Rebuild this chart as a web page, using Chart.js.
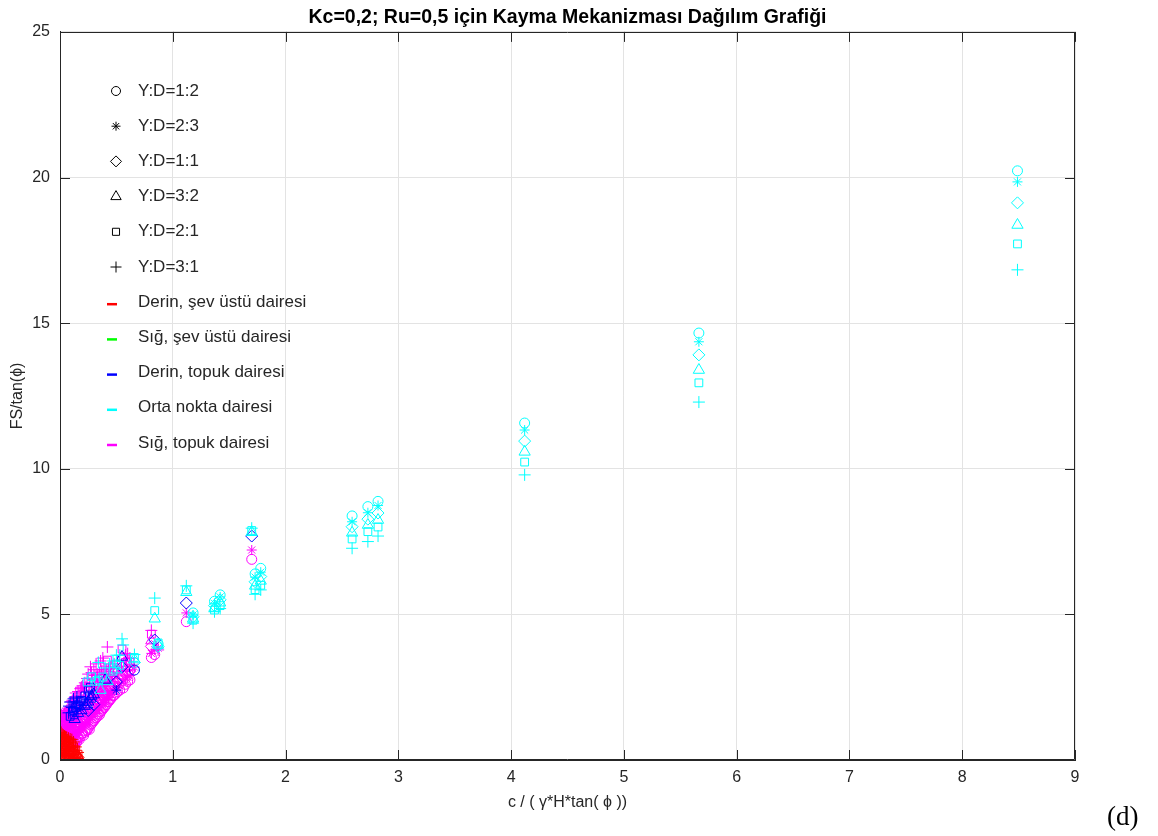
<!DOCTYPE html>
<html>
<head>
<meta charset="utf-8">
<script src="https://cdn.jsdelivr.net/npm/chart.js@4/dist/chart.umd.min.js"></script>
<style>
  body { margin: 0; background: #fff; }
  #wrap { position: relative; width: 1158px; height: 836px; }
  #harf { position: absolute; left: 1107px; top: 801px; font-family: 'Liberation Serif', 'Times New Roman', serif; font-size: 27px; color: #000; }
</style>
</head>
<body>
<div id="wrap">
  <canvas id="grafik" width="1158" height="836"></canvas>
  <div id="harf">(d)</div>
</div>
<script>
// her sütun bir şev durumu: x değeri ve 6 Y:D oranı için FS/tan(phi)
const caseX = [
  8.49, 5.665, 4.12, 2.82, 2.73, 2.59, 1.78, 1.73, 1.70, 1.42, 1.37, 1.18, 1.12, 0.87, 0.84, 0.81, 0.66,
  0.62, 0.60, 0.56, 0.55, 0.53, 0.50, 0.47, 0.44, 0.42, 0.40, 0.38, 0.36, 0.34, 0.32, 0.30, 0.28, 0.27,
  0.25, 0.24, 0.22, 0.20, 0.19, 0.18, 0.16, 0.15, 0.14, 0.13, 0.12, 0.11, 0.10, 0.09, 0.08, 0.07, 0.06,
  0.05, 0.04, 0.03, 0.02, 0.01,
  0.015, 0.035, 0.055, 0.075, 0.105, 0.125, 0.145, 0.17, 0.21, 0.23, 0.26, 0.29, 0.31, 0.33, 0.35, 0.37,
  0.39, 0.41, 0.43, 0.45, 0.48, 0.51, 0.58,
  0.003, 0.01, 0.02, 0.03, 0.04, 0.05, 0.06, 0.075, 0.09, 0.105, 0.12, 0.14, 0.16
];
const yOran12 = [
  20.23, 14.66, 11.57, 8.88, 8.70, 8.38, 6.58, 6.39, 6.89, 5.67, 5.45, 5.05, 4.75, 3.98, 3.62, 3.52, 3.09,
  2.75, 2.70, 2.47, 2.90, 2.40, 2.30, 2.20, 2.06, 2.00, 1.85, 1.75, 1.65, 1.60, 1.45, 1.35, 1.25, 1.20,
  1.10, 1.03, 0.95, 0.93, 0.90, 0.80, 0.75, 0.65, 0.70, 0.60, 0.45, 0.55, 0.50, 0.45, 0.55, 0.50, 0.50,
  0.55, 0.60, 0.65, 0.70, 0.80,
  0.75, 0.60, 0.52, 0.45, 0.58, 0.62, 0.60, 0.70, 0.85, 1.00, 1.05, 1.30, 1.40, 1.50, 1.55, 1.70,
  1.80, 1.90, 2.00, 2.10, 2.22, 2.35, 2.60,
  0.03, 0.08, 0.05, 0.10, 0.04, 0.08, 0.05, 0.06, 0.04, 0.05, 0.03, 0.02, 0.02
];
const yOran23 = [
  19.85, 14.36, 11.33, 8.74, 8.49, 8.18, 6.45, 6.28, 7.21, 5.60, 5.38, 4.98, 5.05, 3.84, 3.78, 3.66, 3.19,
  2.90, 2.85, 2.65, 3.05, 2.55, 2.40, 2.35, 2.25, 2.20, 2.05, 1.95, 1.90, 1.80, 1.70, 1.60, 1.55, 1.50,
  1.40, 1.30, 1.25, 1.20, 1.15, 1.05, 1.00, 0.90, 0.95, 0.90, 0.75, 0.85, 0.80, 0.70, 0.80, 0.75, 0.70,
  0.70, 0.75, 0.80, 0.85, 0.90,
  0.90, 0.72, 0.68, 0.65, 0.78, 0.82, 0.85, 0.95, 1.10, 1.20, 1.30, 1.50, 1.62, 1.70, 1.75, 1.88,
  1.98, 2.08, 2.15, 2.25, 2.38, 2.50, 2.75,
  0.15, 0.22, 0.18, 0.25, 0.16, 0.22, 0.15, 0.18, 0.14, 0.15, 0.10, 0.08, 0.05
];
const yOran11 = [
  19.13, 13.91, 10.95, 8.48, 8.27, 8.01, 6.30, 6.12, 7.69, 5.50, 5.30, 4.92, 5.39, 3.90, 4.12, 3.90, 3.35,
  3.05, 3.00, 2.90, 3.20, 2.80, 2.68, 2.55, 2.50, 2.45, 2.30, 2.20, 2.10, 2.05, 2.00, 1.90, 1.85, 1.80,
  1.70, 1.60, 1.55, 1.50, 1.40, 1.35, 1.30, 1.20, 1.20, 1.15, 1.05, 1.10, 1.05, 1.00, 1.00, 0.95, 0.90,
  0.90, 0.90, 0.95, 1.00, 1.00,
  1.05, 0.88, 0.85, 0.85, 0.98, 1.00, 1.10, 1.25, 1.40, 1.45, 1.55, 1.75, 1.85, 1.95, 2.00, 2.10,
  2.20, 2.30, 2.35, 2.45, 2.55, 2.70, 2.95,
  0.30, 0.40, 0.33, 0.40, 0.30, 0.36, 0.28, 0.32, 0.26, 0.27, 0.20, 0.15, 0.09
];
const yOran32 = [
  18.37, 13.39, 10.58, 8.24, 8.07, 7.80, 6.15, 5.98, 7.82, 5.40, 5.22, 4.85, 5.76, 3.95, 4.85, 4.10, 3.45,
  3.20, 3.20, 3.20, 3.54, 3.00, 3.10, 2.80, 2.75, 2.70, 2.75, 2.45, 2.40, 2.35, 2.30, 2.25, 2.20, 2.10,
  2.00, 1.90, 1.85, 1.80, 1.70, 1.65, 1.60, 1.50, 1.50, 1.40, 1.35, 1.35, 1.30, 1.25, 1.20, 1.15, 1.10,
  1.10, 1.05, 1.10, 1.15, 1.15,
  1.20, 1.02, 1.05, 1.05, 1.22, 1.25, 1.35, 1.55, 1.70, 1.75, 1.85, 2.05, 2.15, 2.20, 2.25, 2.35,
  2.45, 2.50, 2.55, 2.65, 2.75, 2.90, 3.15,
  0.50, 0.58, 0.50, 0.55, 0.46, 0.50, 0.44, 0.46, 0.40, 0.40, 0.32, 0.25, 0.14
];
const yOran21 = [
  17.72, 12.95, 10.23, 8.00, 7.84, 7.59, 6.00, 5.85, 7.88, 5.30, 5.15, 4.80, 5.84, 4.02, 5.13, 4.32, 3.52,
  3.35, 3.40, 3.50, 3.81, 3.25, 3.30, 3.05, 3.00, 3.43, 3.09, 2.85, 2.80, 2.75, 2.70, 2.65, 2.86, 2.50,
  2.40, 2.68, 2.20, 2.10, 2.05, 2.00, 1.90, 1.85, 1.80, 1.75, 1.70, 1.65, 1.60, 1.50, 1.45, 1.40, 1.35,
  1.30, 1.25, 1.30, 1.30, 1.30,
  1.35, 1.20, 1.25, 1.30, 1.50, 1.55, 1.65, 1.85, 2.00, 2.05, 2.20, 2.40, 2.50, 2.55, 2.60, 2.65,
  2.70, 2.75, 2.80, 2.90, 3.00, 3.10, 3.35,
  0.70, 0.76, 0.68, 0.70, 0.62, 0.66, 0.60, 0.60, 0.56, 0.55, 0.45, 0.35, 0.20
];
const yOran31 = [
  16.83, 12.29, 9.79, 7.69, 7.50, 7.27, 5.84, 5.69, 7.96, 5.20, 5.09, 4.70, 5.98, 3.78, 5.56, 4.45, 3.62,
  3.50, 3.65, 3.95, 4.16, 3.60, 3.60, 3.40, 3.30, 3.88, 3.16, 3.50, 3.40, 3.35, 3.30, 3.10, 3.00, 3.20,
  2.95, 2.80, 2.65, 2.55, 2.50, 2.45, 2.35, 2.16, 2.30, 2.15, 2.10, 2.05, 2.00, 1.99, 1.85, 1.78, 1.70,
  1.65, 1.60, 1.55, 1.50, 1.45,
  1.55, 1.45, 1.55, 1.62, 1.80, 1.90, 2.00, 2.20, 2.40, 2.50, 2.60, 2.75, 2.90, 2.95, 3.00, 3.05,
  3.10, 3.10, 3.15, 3.20, 3.30, 3.40, 3.60,
  0.92, 0.95, 0.88, 0.85, 0.82, 0.80, 0.78, 0.75, 0.72, 0.70, 0.62, 0.45, 0.26
];
// her noktanın kayma mekanizması (oran sırasıyla): R derin şev üstü, G sığ şev üstü, B derin topuk, C orta nokta, M sığ topuk
const mekanizma = [
  'CCCCCC', 'CCCCCC', 'CCCCCC', 'CCCCCC', 'CCCCCC', 'CCCCCC', 'CCCCCC', 'CCCCCC', 'MMBCCC', 'CCCCCC',
  'CCCCCC', 'CCCCCC', 'MMBCCC', 'CMCCCM', 'MMBCCC', 'MMMMMM', 'BMCCCC',
  'MMMMMM', 'MMMMMM', 'MMMMMC', 'MMBBMC', 'MMMMCC', 'MBBCCC', 'MMMMCC', 'MMMMMC', 'MMMCMM', 'MMMBMC',
  'MMMMCM', 'MMMCMM', 'MMMMCC', 'MMMMCM', 'MMBBMM', 'MMMBCM', 'MMMBBM', 'MMBBBM', 'MMMBCM', 'MMMBBM',
  'MMMMMM', 'MMMBBM', 'MMMMBM', 'MMMBBM', 'MMMMBB', 'MMMMBM', 'MMMBMM', 'MMMMBB', 'MMMMBM', 'MMMMMM',
  'MMMMBB', 'MMMMMB', 'MMMMMM', 'MMMMMM', 'MMMMMM', 'MMMMMM', 'MMMMMM', 'MMMMMM', 'MMMMMM',
  'MMMMMM', 'MMMMMM', 'MMMMMM', 'MMMMMB', 'MMMMMB', 'MMMMBM', 'MMMMMB', 'MMMMBM', 'MMMMBM', 'MMMMMM',
  'MMMMBM', 'MMMMMM', 'MMMMMM', 'MMMMMM', 'MMMMMM', 'MMMMMM', 'MMMMMM', 'MMMMMM', 'MMMMMM', 'MMMMMM',
  'MMMMMM', 'MMMMMM', 'MMMMMM',
  'RRRRRR', 'RRRRRR', 'RRRRRR', 'RRRRRR', 'RRRRRR', 'RRRRRR', 'RRRRRR', 'RRRRRR', 'RRRRRR', 'RRRRRR',
  'RRRRRR', 'RRRRRR', 'RRRRRR'
];

const oranEtiketleri = ['Y:D=1:2', 'Y:D=2:3', 'Y:D=1:1', 'Y:D=3:2', 'Y:D=2:1', 'Y:D=3:1'];
const mekanizmaKodlari = ['R', 'G', 'B', 'C', 'M'];
const mekanizmaEtiketleri = ['Derin, şev üstü dairesi', 'Sığ, şev üstü dairesi', 'Derin, topuk dairesi', 'Orta nokta dairesi', 'Sığ, topuk dairesi'];

const isaretler = ['circle', 'star', 'rectRot', 'triangle', 'rect', 'cross'];
const isaretBoyu = [5, 5, 6, 6.5, 5.5, 6];
const renkler = { R: '#ff0000', G: '#00ff00', B: '#0000ff', C: '#00ffff', M: '#ff00ff' };
const cizimSirasi = { R: 0, G: 1, C: 2, B: 3, M: 4 };
const yaziTipi = "'Liberation Sans', Arial, Helvetica, sans-serif";

const yDegerleri = [yOran12, yOran23, yOran11, yOran32, yOran21, yOran31];

// mekanizma x işaret kombinasyonlarından veri setlerini kur
const datasets = [];
mekanizmaKodlari.forEach(kod => {
  isaretler.forEach((isaret, s) => {
    const pts = [];
    caseX.forEach((x, i) => {
      if (mekanizma[i][s] === kod) pts.push({ x: x, y: yDegerleri[s][i] });
    });
    if (!pts.length) return;
    datasets.push({
      label: kod + ' ' + oranEtiketleri[s],
      data: pts,
      pointStyle: isaret,
      pointRadius: isaretBoyu[s],
      pointBorderWidth: 1,
      borderColor: renkler[kod],
      backgroundColor: 'rgba(0,0,0,0)',
      showLine: false,
      order: cizimSirasi[kod]
    });
  });
});

// MATLAB tarzı çerçeve, iç tik çizgileri ve eksen içi lejant
const matlabCerceve = {
  id: 'matlabCerceve',
  afterDatasetsDraw(chart) {
    const { ctx, chartArea: a, scales: { x, y } } = chart;
    ctx.save();
    ctx.strokeStyle = '#262626';
    ctx.lineWidth = 1;
    ctx.beginPath();
    ctx.rect(Math.round(a.left) + 0.5, Math.round(a.top) + 0.5, Math.round(a.right - a.left) - 1, Math.round(a.bottom - a.top) - 1);
    x.ticks.forEach(t => {
      const px = Math.round(x.getPixelForValue(t.value)) + 0.5;
      ctx.moveTo(px, a.bottom); ctx.lineTo(px, a.bottom - 10);
      ctx.moveTo(px, a.top); ctx.lineTo(px, a.top + 10);
    });
    y.ticks.forEach(t => {
      const py = Math.round(y.getPixelForValue(t.value)) + 0.5;
      ctx.moveTo(a.left, py); ctx.lineTo(a.left + 10, py);
      ctx.moveTo(a.right, py); ctx.lineTo(a.right - 10, py);
    });
    ctx.stroke();

    // lejant
    const mx = 116, tx = 138, y0 = 91, dy = 35.2;
    ctx.font = '17px ' + yaziTipi;
    ctx.textBaseline = 'middle';
    ctx.textAlign = 'left';
    oranEtiketleri.forEach((lbl, i) => {
      const yy = y0 + i * dy;
      ctx.strokeStyle = '#000';
      ctx.fillStyle = 'rgba(0,0,0,0)';
      ctx.lineWidth = 1;
      Chart.helpers.drawPoint(ctx, { pointStyle: isaretler[i], radius: isaretBoyu[i] - 0.5, borderWidth: 1, rotation: 0 }, mx, yy);
      ctx.fillStyle = '#262626';
      ctx.fillText(lbl, tx, yy);
    });
    mekanizmaEtiketleri.forEach((lbl, j) => {
      const yy = y0 + (6 + j) * dy;
      ctx.strokeStyle = renkler[mekanizmaKodlari[j]];
      ctx.lineWidth = 2.5;
      ctx.beginPath();
      ctx.moveTo(107, yy + 2); ctx.lineTo(117, yy + 2);
      ctx.stroke();
      ctx.fillStyle = '#262626';
      ctx.fillText(lbl, tx, yy);
    });
    ctx.restore();
  }
};

const ctx = document.getElementById('grafik').getContext('2d');
const chart = new Chart(ctx, {
  type: 'scatter',
  data: { datasets: datasets },
  options: {
    responsive: false,
    animation: false,
    devicePixelRatio: 1,
    layout: { padding: { left: 0, right: 83, top: 0, bottom: 0 } },
    plugins: {
      legend: { display: false },
      tooltip: { enabled: false },
      title: {
        display: true,
        fullSize: false,
        text: 'Kc=0,2; Ru=0,5 için Kayma Mekanizması Dağılım Grafiği',
        color: '#000',
        font: { family: yaziTipi, size: 19.5, weight: 'bold' },
        padding: { top: 6, bottom: 2.5 }
      }
    },
    scales: {
      x: {
        type: 'linear',
        min: 0, max: 9,
        ticks: { stepSize: 1, color: '#262626', font: { family: yaziTipi, size: 16 }, padding: 8, maxRotation: 0 },
        grid: { color: '#e3e3e3', drawTicks: false },
        border: { color: '#262626' },
        title: { display: true, text: 'c / ( γ*H*tan( ϕ ))', color: '#262626', font: { family: yaziTipi, size: 16 }, padding: { top: 0, bottom: 24 } },
        afterFit: s => { s.height = 76; }
      },
      y: {
        type: 'linear',
        min: 0, max: 25,
        ticks: { stepSize: 5, color: '#262626', font: { family: yaziTipi, size: 16 }, padding: 10 },
        grid: { color: '#e3e3e3', drawTicks: false },
        border: { color: '#262626' },
        title: { display: true, text: 'FS/tan(ϕ)', color: '#262626', font: { family: yaziTipi, size: 16 }, padding: { top: 8, bottom: 0 } },
        afterFit: s => { s.width = 60; }
      }
    }
  },
  plugins: [matlabCerceve]
});
</script>
</body>
</html>
